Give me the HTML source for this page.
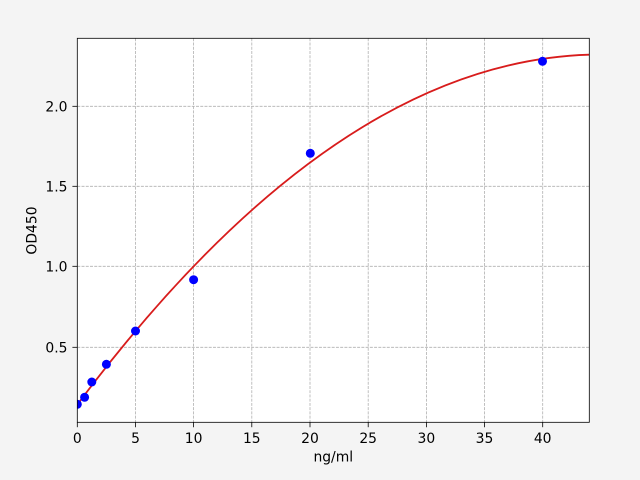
<!DOCTYPE html>
<html><head><meta charset="utf-8"><style>
html,body{margin:0;padding:0;background:#f4f4f4;}
svg{display:block;}
text{font-family:"DejaVu Sans","Liberation Sans",sans-serif;font-size:13.9px;fill:#000;}
</style></head><body>
<svg width="640" height="480" viewBox="0 0 640 480" xmlns="http://www.w3.org/2000/svg">
<rect x="0" y="0" width="640" height="480" fill="#f4f4f4"/>
<defs><clipPath id="ax"><rect x="77.3" y="38.3" width="512" height="384"/></clipPath></defs>
<rect x="77.3" y="38.3" width="512" height="384" fill="#fff"/>
<g stroke="#b0b0b0" stroke-width="0.8" stroke-dasharray="2.96,1.28" fill="none">
<line x1="135.5" y1="38.3" x2="135.5" y2="422.3"/>
<line x1="193.6" y1="38.3" x2="193.6" y2="422.3"/>
<line x1="251.8" y1="38.3" x2="251.8" y2="422.3"/>
<line x1="310.0" y1="38.3" x2="310.0" y2="422.3"/>
<line x1="368.2" y1="38.3" x2="368.2" y2="422.3"/>
<line x1="426.4" y1="38.3" x2="426.4" y2="422.3"/>
<line x1="484.5" y1="38.3" x2="484.5" y2="422.3"/>
<line x1="542.7" y1="38.3" x2="542.7" y2="422.3"/>
<line x1="77.3" y1="106.3" x2="589.3" y2="106.3"/>
<line x1="77.3" y1="186.3" x2="589.3" y2="186.3"/>
<line x1="77.3" y1="266.3" x2="589.3" y2="266.3"/>
<line x1="77.3" y1="347.3" x2="589.3" y2="347.3"/>
</g>
<g clip-path="url(#ax)">
<path fill="none" stroke="#d81c1c" stroke-width="1.8" d="M77.3,404.59 Q333.27,62.34 589.24,54.69"/>
<g fill="#0000ff">
<circle cx="77.3" cy="404.3" r="4.5"/>
<circle cx="84.6" cy="397.3" r="4.5"/>
<circle cx="91.8" cy="382" r="4.5"/>
<circle cx="106.4" cy="364.3" r="4.5"/>
<circle cx="135.5" cy="331" r="4.5"/>
<circle cx="193.6" cy="279.7" r="4.5"/>
<circle cx="310.3" cy="153.3" r="4.5"/>
<circle cx="542.5" cy="61.3" r="4.5"/>
</g>
</g>
<rect x="77.3" y="38.3" width="512" height="384" fill="none" stroke="#000" stroke-width="0.8"/>
<g stroke="#000" stroke-width="0.8">
<line x1="77.3" y1="422.3" x2="77.3" y2="427.2"/>
<line x1="135.5" y1="422.3" x2="135.5" y2="427.2"/>
<line x1="193.6" y1="422.3" x2="193.6" y2="427.2"/>
<line x1="251.8" y1="422.3" x2="251.8" y2="427.2"/>
<line x1="310.0" y1="422.3" x2="310.0" y2="427.2"/>
<line x1="368.2" y1="422.3" x2="368.2" y2="427.2"/>
<line x1="426.4" y1="422.3" x2="426.4" y2="427.2"/>
<line x1="484.5" y1="422.3" x2="484.5" y2="427.2"/>
<line x1="542.7" y1="422.3" x2="542.7" y2="427.2"/>
<line x1="72.4" y1="106.3" x2="77.3" y2="106.3"/>
<line x1="72.4" y1="186.3" x2="77.3" y2="186.3"/>
<line x1="72.4" y1="266.3" x2="77.3" y2="266.3"/>
<line x1="72.4" y1="347.3" x2="77.3" y2="347.3"/>
</g>
<g text-anchor="middle">
<text x="77.3" y="443">0</text>
<text x="135.5" y="443">5</text>
<text x="193.6" y="443">10</text>
<text x="251.8" y="443">15</text>
<text x="310.0" y="443">20</text>
<text x="368.2" y="443">25</text>
<text x="426.4" y="443">30</text>
<text x="484.5" y="443">35</text>
<text x="542.7" y="443">40</text>
<text x="333.3" y="461.5">ng/ml</text>
</g>
<g text-anchor="end">
<text x="67.5" y="111.3">2.0</text>
<text x="67.5" y="191.3">1.5</text>
<text x="67.5" y="271.3">1.0</text>
<text x="67.5" y="352.3">0.5</text>
</g>
<text x="0" y="0" text-anchor="middle" transform="translate(36.5,230.5) rotate(-90)">OD450</text>
</svg>
</body></html>
